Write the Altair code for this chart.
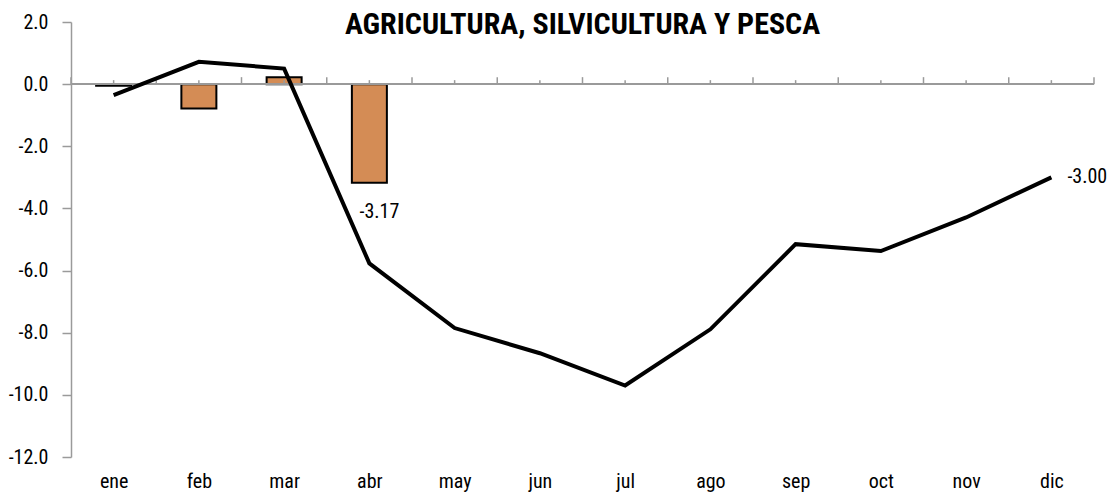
import altair as alt
import pandas as pd

months = ["ene", "feb", "mar", "abr", "may", "jun", "jul", "ago", "sep", "oct", "nov", "dic"]
line_values = [-0.35, 0.72, 0.50, -5.77, -7.85, -8.66, -9.70, -7.89, -5.15, -5.37, -4.29, -3.00]
bar_months = ["ene", "feb", "mar", "abr"]
bar_values = [-0.05, -0.78, 0.22, -3.17]
label_months = ["abr", "dic"]
label_values = [-3.17, -3.00]
label_texts = ["-3.17", "-3.00"]
y_ticks = [2, 0, -2, -4, -6, -8, -10, -12]
title_text = "AGRICULTURA, SILVICULTURA Y PESCA"

idx = {m: i for i, m in enumerate(months)}
n = len(months)
line_df = pd.DataFrame({"i": list(range(n)), "mes": months, "v": line_values})
bar_df = pd.DataFrame({"i": [idx[m] for m in bar_months], "mes": bar_months, "v": bar_values})
lab_df = pd.DataFrame({"i": [idx[m] for m in label_months], "mes": label_months,
                       "v": label_values, "t": label_texts})
# category-axis tick positions on the zero line: month boundaries and month centres
major_df = pd.DataFrame({"i": [k + 0.5 for k in range(-1, n)]})
minor_df = pd.DataFrame({"i": list(range(n))})

W, H = 1023, 435
FONT = "Roboto Condensed, Liberation Sans Narrow, Liberation Sans, sans-serif"
GRAY = "#9a9a9a"
PX = 14 / H  # one pixel in data units

xscale = alt.Scale(domain=[-0.5, n - 0.5], nice=False, zero=False, padding=0)
yscale = alt.Scale(domain=[-12, 2], nice=False, zero=False, padding=0)

label_expr = "[" + ",".join(f"'{m}'" for m in months) + "][datum.value]"

x_axis = alt.X("i:Q", scale=xscale, title=None,
               axis=alt.Axis(orient="bottom", values=list(range(n)),
                             labelExpr=label_expr, domain=False, ticks=False, grid=False,
                             labelFontSize=20, labelFont=FONT, labelColor="black",
                             labelPadding=14))
x_none = alt.X("i:Q", scale=xscale, axis=None)

y_axis = alt.Y("v:Q", scale=yscale, title=None,
               axis=alt.Axis(orient="left", values=y_ticks,
                             labelExpr="replace(format(datum.value, '.1f'), '\u2212', '-')",
                             grid=False, domainColor=GRAY, domainWidth=1.5,
                             tickColor=GRAY, tickWidth=1.5, tickSize=9,
                             labelFontSize=20, labelFont=FONT, labelColor="black",
                             labelPadding=14))
y_none = alt.Y("v:Q", scale=yscale, axis=None)

zero_line = alt.Chart(minor_df).mark_rule(color=GRAY, strokeWidth=1.5).encode(
    y=alt.datum(0, scale=yscale, axis=None))

major_ticks = alt.Chart(major_df).mark_rule(color=GRAY, strokeWidth=1.5).encode(
    x=x_none, y=alt.datum(0, axis=None), y2=alt.datum(7 * PX))
minor_ticks = alt.Chart(minor_df).mark_rule(color=GRAY, strokeWidth=1.5).encode(
    x=x_none, y=alt.datum(0, axis=None), y2=alt.datum(4 * PX))

bars = alt.Chart(bar_df).mark_bar(size=35, color="#D48C55", stroke="black", strokeWidth=2).encode(
    x=x_axis, y=y_axis)

line = alt.Chart(line_df).mark_line(color="black", strokeWidth=4).encode(x=x_none, y=y_none)

lab_bar = alt.Chart(lab_df).transform_filter(alt.datum.mes == "abr").mark_text(
    font=FONT, fontSize=20, color="black", align="center", baseline="middle", dx=10, dy=29
).encode(x=x_none, y=y_none, text="t:N")

lab_end = alt.Chart(lab_df).transform_filter(alt.datum.mes == "dic").mark_text(
    font=FONT, fontSize=20, color="black", align="left", baseline="middle", dx=16, dy=0
).encode(x=x_none, y=y_none, text="t:N")

chart = alt.layer(bars, zero_line, major_ticks, minor_ticks, line, lab_bar, lab_end).resolve_axis(
    x="independent", y="independent"
).properties(
    width=W, height=H,
    title=alt.TitleParams(title_text, font=FONT, fontSize=30, fontWeight="bold", anchor="middle",
                          frame="group", color="black", offset=-28),
    autosize=alt.AutoSizeParams(type="none"),
    padding={"left": 63, "top": 14, "right": 15, "bottom": 38},
    background="white",
).configure_view(stroke=None)

chart.save("out.html", embed_options={"renderer": "svg", "actions": False})
